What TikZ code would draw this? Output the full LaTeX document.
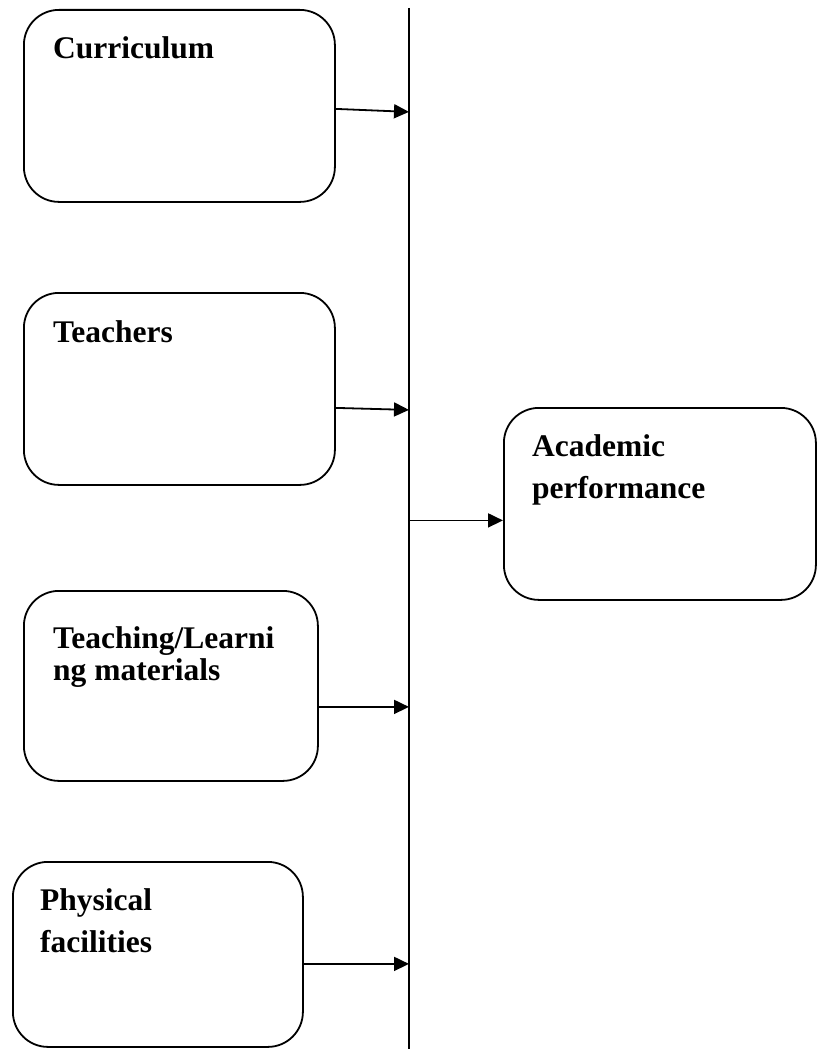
\documentclass[tikz,border=0pt]{standalone}
\usepackage{fontspec}
\setmainfont{Liberation Serif}
\usetikzlibrary{calc,arrows.meta}
\tikzset{box/.style={draw,rounded corners=35pt,line width=1.8pt,anchor=north west,inner sep=0pt}}
\tikzset{lbl/.style={font=\fontsize{31.5}{42}\selectfont\bfseries,anchor=base west,align=left,inner sep=0pt}}
\tikzset{arr/.style={-{Triangle[length=15pt,width=14pt]},line width=1.8pt}}

\begin{document}
\begin{tikzpicture}[x=1pt,y=1pt]
	\useasboundingbox (0,0) rectangle (817,-1049);
	
	\node [box,minimum width=311pt,minimum height=192pt] (cur) at (23,-9) {};
	\node [box,minimum width=311pt,minimum height=192pt] (tea) at (23,-292) {};
	\node [box,minimum width=294pt,minimum height=190pt] (mat) at (23,-590) {};
	\node [box,minimum width=290pt,minimum height=185pt] (fac) at (12,-861) {};
	\node [box,minimum width=312pt,minimum height=192pt] (aca) at (503,-407) {};
	
	% base of a two-line label is the last line
	\node [lbl] (curtxt) at ($(cur.north west)+(30,-50)$) {Curriculum};
	\node [lbl] (teatxt) at ($(tea.north west)+(30,-50)$) {Teachers};
	\node [lbl] (mattxt) at ($(mat.north west)+(30,-90)$) {Teaching/Learni\\[-10pt]ng materials};
	\node [lbl] (factxt) at ($(fac.north west)+(28,-91)$) {Physical\\facilities};
	\node [lbl] (acatxt) at ($(aca.north west)+(29,-91)$) {Academic\\performance};
	
	\coordinate (bustop) at (409,-8);
	\coordinate (busbot) at (409,-1049);
	\draw [line width=1.8pt] (bustop) -- (busbot);
	
	\draw [arr] ([yshift=-3pt]cur.east) -- ([yshift=-6pt]cur.east -| bustop);
	\draw [arr] ([yshift=-19pt]tea.east) -- ([yshift=-21pt]tea.east -| bustop);
	\draw [arr] ([yshift=-21pt]mat.east) -- ([yshift=-21pt]mat.east -| bustop);
	\draw [arr] ([yshift=-9.5pt]fac.east) -- ([yshift=-9.5pt]fac.east -| bustop);
	\draw [arr] ([yshift=-16.5pt]aca.west -| bustop) -- ([yshift=-16.5pt]aca.west);
\end{tikzpicture}
\end{document}
